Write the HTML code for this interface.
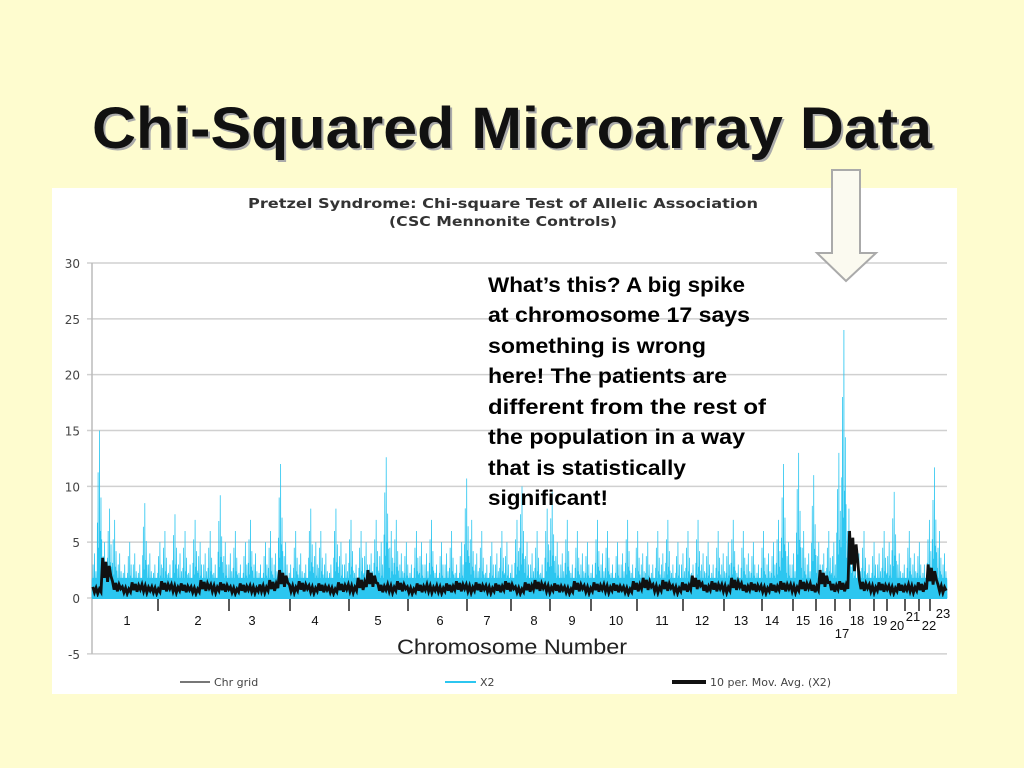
<!DOCTYPE html>
<html><head><meta charset="utf-8"><style>
html,body{margin:0;padding:0;background:#FEFCCF;}
svg{display:block;}
</style></head><body>
<svg width="1024" height="768" xmlns="http://www.w3.org/2000/svg">
<rect x="0" y="0" width="1024" height="768" fill="#FEFCCF"/>
<text x="514" y="150" text-anchor="middle" font-family="Liberation Sans, sans-serif" font-weight="bold" font-size="58" fill="#aaa" textLength="840" lengthAdjust="spacingAndGlyphs">Chi-Squared Microarray Data</text>
<text x="512" y="148" text-anchor="middle" font-family="Liberation Sans, sans-serif" font-weight="bold" font-size="58" fill="#111" textLength="840" lengthAdjust="spacingAndGlyphs">Chi-Squared Microarray Data</text>
<rect x="52" y="188" width="905" height="506" fill="#fff"/>
<text x="503" y="208" text-anchor="middle" font-family="DejaVu Sans, sans-serif" font-weight="bold" font-size="13" fill="#333" textLength="510" lengthAdjust="spacingAndGlyphs">Pretzel Syndrome: Chi-square Test of Allelic Association</text>
<text x="503" y="226" text-anchor="middle" font-family="DejaVu Sans, sans-serif" font-weight="bold" font-size="13" fill="#333" textLength="228" lengthAdjust="spacingAndGlyphs">(CSC Mennonite Controls)</text>
<g id="grid"></g>
<g id="plot"></g>
<g id="labels"></g>
<text x="512" y="654" text-anchor="middle" font-family="Liberation Sans, sans-serif" font-size="21" fill="#222" textLength="230" lengthAdjust="spacingAndGlyphs">Chromosome Number</text>
<g font-family="Liberation Sans, sans-serif" font-weight="bold" font-size="21" fill="#000">
<text x="488" y="292" textLength="257" lengthAdjust="spacingAndGlyphs">What’s this? A big spike</text>
<text x="488" y="322" textLength="262" lengthAdjust="spacingAndGlyphs">at chromosome 17 says</text>
<text x="488" y="353" textLength="218" lengthAdjust="spacingAndGlyphs">something is wrong</text>
<text x="488" y="383" textLength="239" lengthAdjust="spacingAndGlyphs">here! The patients are</text>
<text x="488" y="414" textLength="278" lengthAdjust="spacingAndGlyphs">different from the rest of</text>
<text x="488" y="444" textLength="257" lengthAdjust="spacingAndGlyphs">the population in a way</text>
<text x="488" y="475" textLength="198" lengthAdjust="spacingAndGlyphs">that is statistically</text>
<text x="488" y="505" textLength="120" lengthAdjust="spacingAndGlyphs">significant!</text>
</g>
<polygon points="832,170 860,170 860,253 876,253 846,281 817,253 832,253" fill="#FBFAF0" stroke="#aaa" stroke-width="2"/>
<g font-family="DejaVu Sans, sans-serif" font-size="11" fill="#444">
<line x1="180" y1="682" x2="210" y2="682" stroke="#777" stroke-width="2"/>
<text x="214" y="686">Chr grid</text>
<line x1="445" y1="682" x2="476" y2="682" stroke="#2CC6F0" stroke-width="2"/>
<text x="480" y="686">X2</text>
<line x1="672" y1="682" x2="706" y2="682" stroke="#111" stroke-width="4"/>
<text x="710" y="686">10 per. Mov. Avg. (X2)</text>
</g>
</svg>
<script>
const yTicks = [30,25,20,15,10,5,0,-5];
const x2Peaks = [4,15,5,8,7,4,3,5,4,3,8.5,4,3,5,6,3,7.5,4,6,3,7,5,4,6,3,9.2,5,4,6,3,5,7,4,3,5,6,4,12,5,3,6,4,3,8,5,6,4,3,8,5,4,7,3,6,5,4,7,5,12.6,6,7,4,5,3,6,5,4,7,3,5,4,6,3,5,10.7,7,4,6,3,5,4,6,5,3,7,10,5,4,6,3,8,9.5,5,4,7,3,6,4,5,3,7,4,6,3,5,4,7,3,6,4,5,3,6,4,7,3,5,4,6,3,7,4,5,3,6,4,5,7,3,6,4,5,3,6,4,5,7,12,5,4,13,6,4,11,5,4,6,5,13,24,8,5,4,6,3,5,4,6,5,9.5,4,3,6,4,5,3,7,11.7,6,4];
const movAvg = [1,3.6,1.5,1,1.4,1.2,1,1.5,1.2,1.3,1,1.6,1.2,1.4,1,1.3,1.1,1.2,1.6,2.5,1.2,1.5,1.1,1.3,1,1.4,1.2,1.8,2.5,1.3,1.2,1.5,1,1.3,1.2,1.1,1.3,1.5,1.2,1.4,1.1,1.3,1.5,1,1.4,1.6,1.2,1.3,1,1.5,1.1,1.4,1.2,1.3,1,1.5,1.8,1.2,1.6,1.1,1.4,2,1.3,1.5,1.2,1.8,1.3,1.4,1.1,1.3,1.5,1.2,1.6,1.3,2.5,1.4,1.5,6,1.6,1.2,1.4,1.1,1.3,1.2,1.4,3,1.2];
const chrBounds = [158,229,290,349,408,467,511,550,591,637,683,724,762,793,816,835,850,874,887,905,919,930];
const chrLabels = ["1","2","3","4","5","6","7","8","9","10","11","12","13","14","15","16","17","18","19","20","21","22","23"];
const chrLabelX = [127,198,252,315,378,440,487,534,572,616,662,702,741,772,803,826,842,857,880,897,913,929,943];
const chrLabelY = [625,625,625,625,625,625,625,625,625,625,625,625,625,625,625,625,638,625,625,630,621,630,618];

const NS="http://www.w3.org/2000/svg";
const X0=92,X1=947;
const yS=v=>598-(v*335/30);
const xS=(i,n)=>X0+(i+0.5)*(X1-X0)/n;
const grid=document.getElementById('grid'), plot=document.getElementById('plot'), labels=document.getElementById('labels');
function mk(tag,attrs,parent){const e=document.createElementNS(NS,tag);for(const k in attrs)e.setAttribute(k,attrs[k]);parent.appendChild(e);return e;}
yTicks.forEach(t=>{
  const l=mk('line',{x1:X0-5,x2:X1,y1:yS(t),y2:yS(t),stroke:'#d0d0d0','stroke-width':1.5},grid);
  
  
  const tx=mk('text',{x:80,y:yS(t)+5,'text-anchor':'end','font-family':'DejaVu Sans, sans-serif','font-size':12,fill:'#444'},grid);
  tx.textContent=t;
  
  
});
const ax=mk('line',{x1:X0,x2:X0,y1:yS(30),y2:yS(-5),stroke:'#bbb','stroke-width':1.5},grid);


let n=x2Peaks.length, w=(X1-X0)/n, pts=[X0+','+yS(0)];
const fr=[0.45,0.75,0.3,1,0.4,0.6,0.35];
x2Peaks.forEach((v,i)=>{
  const xl=X0+i*w;
  for(let k=0;k<7;k++){
    const xp=xl+(k+0.5)*w/7;
    pts.push((xp-w/28)+','+yS(1.6));
    pts.push(xp+','+yS(Math.max(v*fr[k],1.8)));
    pts.push((xp+w/28)+','+yS(1.6));
  }
});
pts.push(X1+','+yS(0));
const area=mk('polygon',{points:pts.join(' '),fill:'#2CC6F0',stroke:'#2CC6F0','stroke-width':0.8,'stroke-linejoin':'miter'},plot);


let m=movAvg.length, mw=(X1-X0)/m, mp=[];
const mf=[1,0.5,0.9,0.4,0.8,0.55];
movAvg.forEach((v,i)=>{
  for(let k=0;k<6;k++){mp.push((X0+i*mw+(k+0.5)*mw/6)+','+yS(v*mf[k]));}
});
const avg=mk('polyline',{points:mp.join(' '),fill:'none',stroke:'#111','stroke-width':2.8,'stroke-linejoin':'miter'},plot);


const ax0=mk('line',{x1:X0,x2:X1,y1:yS(0),y2:yS(0),stroke:'#2CC6F0','stroke-width':2},plot);


chrBounds.forEach(x=>{
  const l=mk('line',{x1:x,x2:x,y1:599,y2:611,stroke:'#222','stroke-width':1.5},labels);
  
  
});
chrLabels.forEach((s,i)=>{
  const t=mk('text',{x:chrLabelX[i],y:chrLabelY[i],'text-anchor':'middle','font-family':'Liberation Sans, sans-serif','font-size':13,fill:'#111'},labels);
  t.textContent=s;
  
  
});
</script>
</body></html>
